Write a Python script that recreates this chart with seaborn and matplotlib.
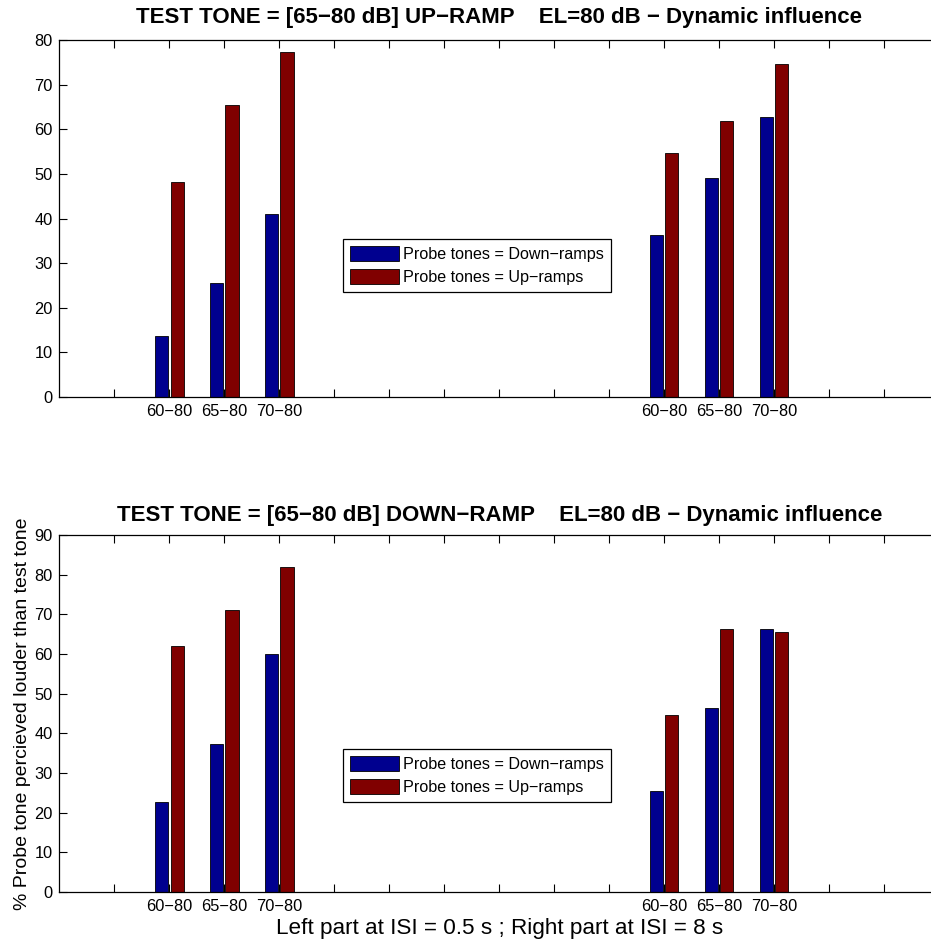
import matplotlib
matplotlib.use("Agg")
import matplotlib.pyplot as plt
import pandas as pd
import seaborn as sns

# Ramp ranges of the probe tones, repeated for the two ISI conditions
ramp_ranges = ["60−80", "65−80", "70−80"]
isi_conditions = ["0.5 s", "8 s"]
series_names = ["Probe tones = Down−ramps", "Probe tones = Up−ramps"]

# % of trials where the probe tone was perceived louder (ISI 0.5 s then ISI 8 s)
uptest_down = [13.6, 25.5, 41.0, 36.3, 49.1, 62.8]
uptest_up = [48.2, 65.5, 77.4, 54.6, 61.9, 74.7]
downtest_down = [22.8, 37.3, 60.1, 25.5, 46.4, 66.4]
downtest_up = [61.9, 71.0, 81.8, 44.6, 66.4, 65.5]

titles = [
    "TEST TONE = [65−80 dB] UP−RAMP    EL=80 dB − Dynamic influence",
    "TEST TONE = [65−80 dB] DOWN−RAMP    EL=80 dB − Dynamic influence",
]
ylims = [80, 90]

# slot layout on the x axis: each ISI block starts at its own slot
block_start = [2, 11]
slots = [block_start[b] + i for b in range(len(isi_conditions)) for i in range(len(ramp_ranges))]

colors = {series_names[0]: "#00008F", series_names[1]: "#800000"}

sns.set_style("ticks")
plt.rcParams["font.family"] = ["Liberation Sans", "DejaVu Sans"]
plt.rcParams["axes.linewidth"] = 0.9
plt.rcParams["text.color"] = "black"
plt.rcParams["axes.labelcolor"] = "black"

fig = plt.figure(figsize=(9.31, 9.41), dpi=100)
ax_top = fig.add_axes([0.0639, 0.5781, 0.9447, 0.3794])
ax_bot = fig.add_axes([0.0639, 0.0521, 0.9447, 0.3794])


def make_frame(down_vals, up_vals):
    rows = []
    for s, d, u in zip(slots, down_vals, up_vals):
        rows.append({"slot": s, "value": d, "series": series_names[0]})
        rows.append({"slot": s, "value": u, "series": series_names[1]})
    return pd.DataFrame(rows)


panels = [(ax_top, uptest_down, uptest_up, 0.4426), (ax_bot, downtest_down, downtest_up, 0.4006)]

for k, (ax, dv, uv, leg_top) in enumerate(panels):
    df = make_frame(dv, uv)
    sns.barplot(
        data=df, x="slot", y="value", hue="series", hue_order=series_names,
        palette=colors, native_scale=True, width=0.56, gap=0.14,
        errorbar=None, edgecolor="black", linewidth=0.6, saturation=1,
        ax=ax,
    )
    ax.set_xlim(0, 16)
    ax.set_ylim(0, ylims[k])
    ax.set_yticks(range(0, ylims[k] + 1, 10))
    ax.set_xticks(range(1, 16))
    labels = [""] * 15
    for s, lab in zip(slots, ramp_ranges * len(isi_conditions)):
        labels[s - 1] = lab
    ax.set_xticklabels(labels)
    ax.tick_params(direction="in", top=True, right=True, length=6, width=0.8,
                   labelsize=11.8, colors="black", pad=5)
    for sp in ax.spines.values():
        sp.set_visible(True)
        sp.set_color("black")
    ax.set_xlabel("")
    ax.set_ylabel("")
    ax.set_title(titles[k], fontsize=16, fontweight="bold", color="black",
                 pad=12 if k == 0 else 10)

    handles, labs = ax.get_legend_handles_labels()
    ax.legend(
        handles, labs, loc="upper left", bbox_to_anchor=(0.3223, leg_top),
        borderaxespad=0, fancybox=False, edgecolor="black", framealpha=1,
        fontsize=11.6, handlelength=3.05, handleheight=1.05, handletextpad=0.2,
        labelspacing=0.42, borderpad=0.45,
    ).get_frame().set_linewidth(0.9)

ax_bot.set_xlabel("Left part at ISI = 0.5 s ; Right part at ISI = 8 s", fontsize=16.2, labelpad=3)
ax_bot.set_ylabel("% Probe tone percieved louder than test tone", fontsize=14, labelpad=2)

fig.savefig("out.png", dpi=100)
